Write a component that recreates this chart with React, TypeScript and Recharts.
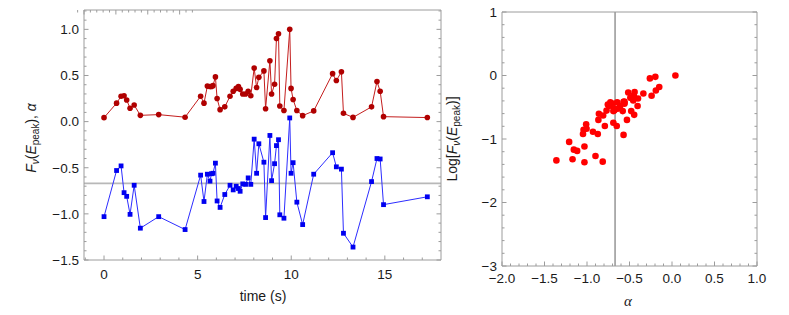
import React from 'react';
import { ComposedChart, Line, XAxis, YAxis, ReferenceLine, ScatterChart, Scatter } from 'recharts';

// ---------- data ----------
const times = [
  0.0, 0.67, 0.91, 1.07, 1.21, 1.39, 1.61, 1.94, 2.92, 4.33,
  5.16, 5.34, 5.52, 5.66, 5.74, 5.82, 5.95, 6.04, 6.2, 6.45,
  6.73, 6.9, 7.06, 7.18, 7.27, 7.41, 7.56, 7.7, 7.84, 8.02,
  8.15, 8.27, 8.54, 8.63, 8.86, 8.95, 9.11, 9.21, 9.32, 9.39,
  9.61, 9.92, 9.99, 10.1, 10.3, 10.61, 11.2, 12.21, 12.41, 12.68,
  12.79, 13.3, 14.29, 14.58, 14.75, 14.93, 17.27,
];
const fluxPeak = [
  0.043, 0.2, 0.275, 0.28, 0.235, 0.145, 0.18, 0.068, 0.076, 0.048,
  0.275, 0.2, 0.385, 0.38, 0.38, 0.39, 0.485, 0.25, 0.13, 0.16,
  0.275, 0.33, 0.36, 0.38, 0.35, 0.3, 0.3, 0.33, 0.28, 0.58,
  0.37, 0.48, 0.55, 0.14, 0.66, 0.3, 0.405, 0.9, 0.953, 0.17,
  0.12, 1.0, 0.36, 0.24, 0.12, 0.065, 0.116, 0.52, 0.445, 0.54,
  0.09, 0.046, 0.16, 0.435, 0.33, 0.054, 0.044,
];
const alphaIndex = [
  -1.03, -0.53, -0.48, -0.77, -0.81, -1.005, -0.69, -1.155, -1.03, -1.17,
  -0.58, -0.866, -0.57, -0.645, -0.565, -0.56, -0.45, -0.86, -0.93, -0.79,
  -0.69, -0.74, -0.7, -0.725, -0.755, -0.675, -0.68, -0.61, -0.68, -0.19,
  -0.56, -0.24, -0.44, -1.04, -0.15, -0.64, -0.456, -0.26, -0.196, -1.01,
  -1.047, 0.04, -0.56, -0.445, -0.873, -1.116, -0.57, -0.337, -0.49, -0.515,
  -1.21, -1.36, -0.65, -0.4, -0.405, -0.9, -0.815,
];
const alphaMean = -0.67;

const leftXMajor = [0, 5, 10, 15];
const leftXLabels = ['0', '5', '10', '15'];
const leftYMajor = [-1.5, -1.0, -0.5, 0.0, 0.5, 1.0];
const leftYLabels = ['\u22121.5', '\u22121.0', '\u22120.5', '0.0', '0.5', '1.0'];
const rightXMajor = [-2.0, -1.5, -1.0, -0.5, 0.0, 0.5, 1.0];
const rightXLabels = ['\u22122.0', '\u22121.5', '\u22121.0', '\u22120.5', '0.0', '0.5', '1.0'];
const rightYMajor = [-3, -2, -1, 0, 1];
const rightYLabels = ['\u22123', '\u22122', '\u22121', '0', '1'];

// ---------- derived tables ----------
const lineRows = times.map((t, i) => ({ time: t, flux: fluxPeak[i], alpha: alphaIndex[i] }));
const scatterRows = times.map((_, i) => ({ a: alphaIndex[i], logF: Math.log10(fluxPeak[i]) }));

function tickList(from: number, to: number, step: number) {
  const out: number[] = [];
  const n = Math.round((to - from) / step);
  for (let i = 0; i <= n; i++) out.push(Math.round((from + i * step) * 1000) / 1000);
  return out;
}
const leftXTicks = tickList(-1, 17, 1);
const leftYTicks = tickList(-1.5, 1.2, 0.1);
const rightXTicks = tickList(-2, 1, 0.1);
const rightYTicks = tickList(-3, 1, 0.2);

// ---------- styling ----------
const FRAME = '#9c9c9c';
const SANS = '"Liberation Sans", Arial, Helvetica, sans-serif';
const TICK_FS = 13.5;
const MAJ = 4.5;
const MIN = 2.5;

type Side = 'bottom' | 'top' | 'left' | 'right';

function makeTick(side: Side, majors: number[], labels: string[] | null, labelGap: number) {
  return (props: any) => {
    const { x, y, payload } = props;
    const v = payload.value;
    const mi = majors.findIndex((m) => Math.abs(m - v) < 1e-6);
    const len = mi >= 0 ? MAJ : MIN;
    let line;
    if (side === 'bottom') line = <line x1={x} x2={x} y1={y} y2={y - len} stroke={FRAME} strokeWidth={1} />;
    else if (side === 'top') line = <line x1={x} x2={x} y1={y} y2={y + len} stroke={FRAME} strokeWidth={1} />;
    else if (side === 'left') line = <line x1={x} x2={x + len} y1={y} y2={y} stroke={FRAME} strokeWidth={1} />;
    else line = <line x1={x} x2={x - len} y1={y} y2={y} stroke={FRAME} strokeWidth={1} />;
    let label = null;
    if (labels && mi >= 0) {
      if (side === 'bottom') {
        label = (
          <text x={x} y={y + labelGap} textAnchor="middle" fontFamily={SANS} fontSize={TICK_FS} fill="#1a1a1a">
            {labels[mi]}
          </text>
        );
      } else if (side === 'left') {
        label = (
          <text x={x - labelGap} y={y + 4.8} textAnchor="end" fontFamily={SANS} fontSize={TICK_FS} fill="#1a1a1a">
            {labels[mi]}
          </text>
        );
      }
    }
    return (
      <g>
        {line}
        {label}
      </g>
    );
  };
}

const SquareDot = (p: any) => {
  const { cx, cy, index } = p;
  if (cx == null || cy == null) return <g key={`sq-${index}`} />;
  return <rect key={`sq-${index}`} x={cx - 2.4} y={cy - 2.4} width={4.8} height={4.8} fill="#0000f0" />;
};
const RoundDot = (p: any) => {
  const { cx, cy, index } = p;
  if (cx == null || cy == null) return <g key={`rd-${index}`} />;
  return <circle key={`rd-${index}`} cx={cx} cy={cy} r={2.8} fill="#b00000" />;
};
const ScatterDot = (p: any) => {
  const { cx, cy } = p;
  if (cx == null || cy == null) return <g />;
  return <circle cx={cx} cy={cy} r={3.3} fill="#ff0000" />;
};

const LeftYLabel = () => (
  <text transform="translate(35.5,138) rotate(-90)" textAnchor="middle" fontFamily={SANS} fontSize={14} fill="#1a1a1a">
    <tspan fontStyle="italic">F</tspan>
    <tspan fontSize={10} dy={3} fontStyle="italic">ν</tspan>
    <tspan dy={-3}>(</tspan>
    <tspan fontStyle="italic">E</tspan>
    <tspan fontSize={10} dy={3}>peak</tspan>
    <tspan dy={-3}>),  </tspan>
    <tspan fontStyle="italic">α</tspan>
  </text>
);
const LeftXLabel = () => (
  <text x={263} y={301} textAnchor="middle" fontFamily={SANS} fontSize={14} fill="#1a1a1a">
    time (s)
  </text>
);
const RightYLabel = () => (
  <text transform="translate(17,139) rotate(-90)" textAnchor="middle" fontFamily={SANS} fontSize={14} fill="#1a1a1a">
    <tspan>Log[</tspan>
    <tspan fontStyle="italic">F</tspan>
    <tspan fontSize={10} dy={3} fontStyle="italic">ν</tspan>
    <tspan dy={-3}>(</tspan>
    <tspan fontStyle="italic">E</tspan>
    <tspan fontSize={10} dy={3}>peak</tspan>
    <tspan dy={-3}>)]</tspan>
  </text>
);
const RightXLabel = () => (
  <text x={188} y={306} textAnchor="middle" fontFamily='"Liberation Serif", "DejaVu Serif", serif' fontStyle="italic" fontSize={15} fill="#1a1a1a">
    α
  </text>
);

export default function App() {
  return (
    <div style={{ position: 'absolute', left: 0, top: 0, width: 789, height: 315, background: '#fff' }}>
      <div style={{ position: 'absolute', left: 0, top: 0 }}>
        <ComposedChart width={460} height={315} data={lineRows} margin={{ top: 9, right: 18, bottom: 25, left: 40 }}>
          <XAxis
            xAxisId="b"
            dataKey="time"
            type="number"
            domain={[-1.07, 18]}
            allowDataOverflow
            ticks={leftXTicks}
            interval={0}
            height={30}
            tickSize={0}
            tickMargin={0}
            tickLine={false}
            axisLine={{ stroke: FRAME }}
            tick={makeTick('bottom', leftXMajor, leftXLabels, 19)}
            label={{ content: LeftXLabel }}
          />
          <XAxis
            xAxisId="t"
            orientation="top"
            type="number"
            domain={[-1.07, 18]}
            allowDataOverflow
            ticks={leftXTicks}
            interval={0}
            height={1}
            tickSize={0}
            tickMargin={0}
            tickLine={false}
            axisLine={{ stroke: FRAME }}
            tick={makeTick('top', leftXMajor, null, 0)}
          />
          <YAxis
            yAxisId="l"
            type="number"
            domain={[-1.5, 1.21]}
            allowDataOverflow
            ticks={leftYTicks}
            interval={0}
            width={44}
            tickSize={0}
            tickMargin={0}
            tickLine={false}
            axisLine={{ stroke: FRAME }}
            tick={makeTick('left', leftYMajor, leftYLabels, 5)}
            label={{ content: LeftYLabel }}
          />
          <YAxis
            yAxisId="r"
            orientation="right"
            type="number"
            domain={[-1.5, 1.21]}
            allowDataOverflow
            ticks={leftYTicks}
            interval={0}
            width={1}
            tickSize={0}
            tickMargin={0}
            tickLine={false}
            axisLine={{ stroke: FRAME }}
            tick={makeTick('right', leftYMajor, null, 0)}
          />
          <ReferenceLine xAxisId="b" yAxisId="l" y={alphaMean} stroke="#b8b8b8" strokeWidth={1.7} />
          <Line
            xAxisId="b"
            yAxisId="l"
            dataKey="flux"
            stroke="#c41e1e"
            strokeWidth={1}
            dot={RoundDot}
            activeDot={false}
            isAnimationActive={false}
          />
          <Line
            xAxisId="b"
            yAxisId="l"
            dataKey="alpha"
            stroke="#2d2dff"
            strokeWidth={1}
            dot={SquareDot}
            activeDot={false}
            isAnimationActive={false}
          />
        </ComposedChart>
      </div>
      <div style={{ position: 'absolute', left: 440, top: 0 }}>
        <ScatterChart width={349} height={315} margin={{ top: 11, right: 31, bottom: 19, left: 32 }}>
          <XAxis
            xAxisId="b"
            dataKey="a"
            type="number"
            domain={[-2, 1]}
            allowDataOverflow
            ticks={rightXTicks}
            interval={0}
            height={30}
            tickSize={0}
            tickMargin={0}
            tickLine={false}
            axisLine={{ stroke: FRAME }}
            tick={makeTick('bottom', rightXMajor, rightXLabels, 17)}
            label={{ content: RightXLabel }}
          />
          <XAxis
            xAxisId="t"
            orientation="top"
            type="number"
            domain={[-2, 1]}
            allowDataOverflow
            ticks={rightXTicks}
            interval={0}
            height={1}
            tickSize={0}
            tickMargin={0}
            tickLine={false}
            axisLine={{ stroke: FRAME }}
            tick={makeTick('top', rightXMajor, null, 0)}
          />
          <YAxis
            yAxisId="l"
            dataKey="logF"
            type="number"
            domain={[-3, 1]}
            allowDataOverflow
            ticks={rightYTicks}
            interval={0}
            width={30}
            tickSize={0}
            tickMargin={0}
            tickLine={false}
            axisLine={{ stroke: FRAME }}
            tick={makeTick('left', rightYMajor, rightYLabels, 5)}
            label={{ content: RightYLabel }}
          />
          <YAxis
            yAxisId="r"
            orientation="right"
            type="number"
            domain={[-3, 1]}
            allowDataOverflow
            ticks={rightYTicks}
            interval={0}
            width={1}
            tickSize={0}
            tickMargin={0}
            tickLine={false}
            axisLine={{ stroke: FRAME }}
            tick={makeTick('right', rightYMajor, null, 0)}
          />
          <ReferenceLine xAxisId="b" yAxisId="l" x={alphaMean} stroke="#7a7a7a" strokeWidth={1.2} />
          <Scatter
            xAxisId="b"
            yAxisId="l"
            data={scatterRows}
            dataKey="logF"
            fill="#ff0000"
            shape={ScatterDot}
            isAnimationActive={false}
          />
        </ScatterChart>
      </div>
    </div>
  );
}
